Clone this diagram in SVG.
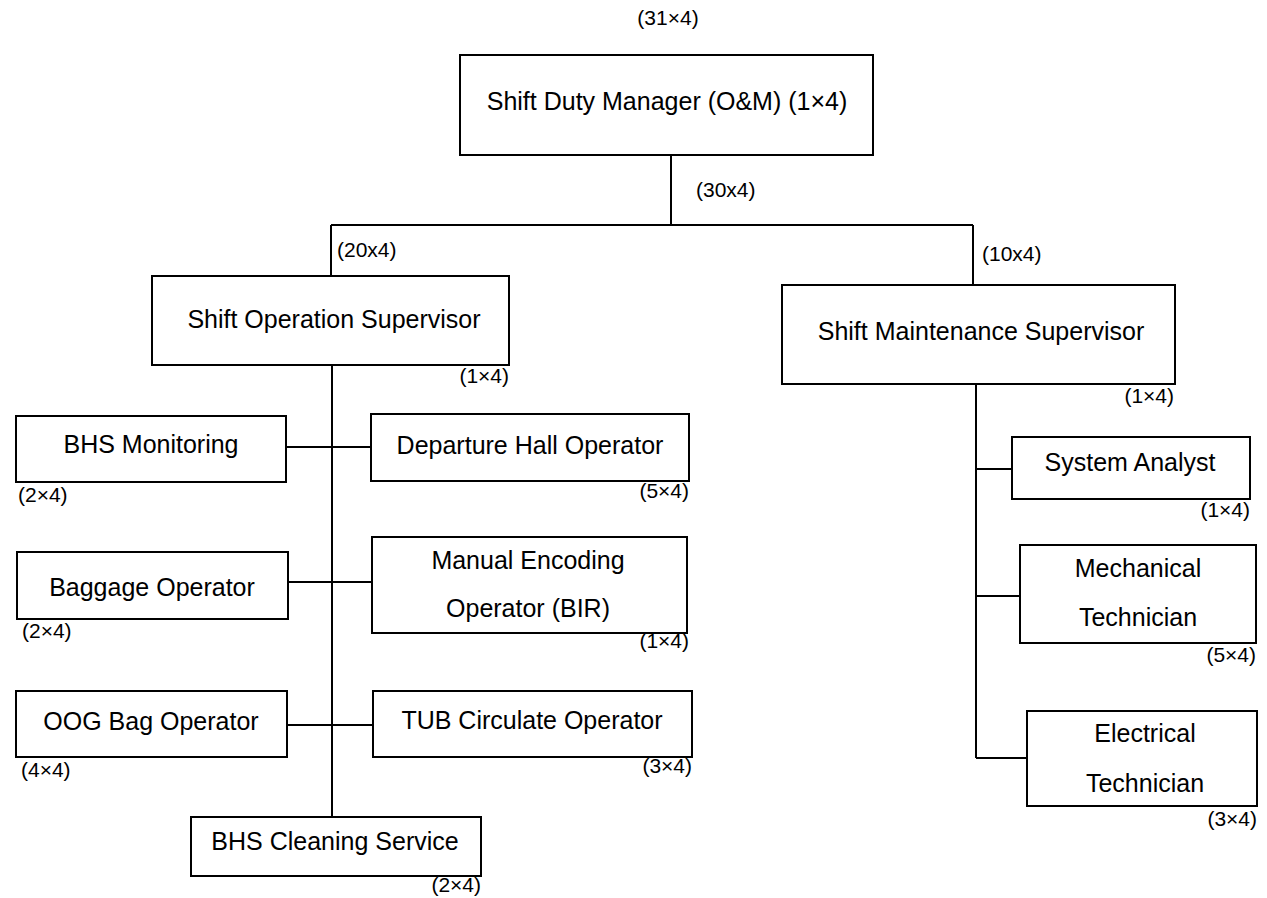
<svg xmlns="http://www.w3.org/2000/svg" width="1267" height="898" viewBox="0 0 1267 898">
<style>
  .box { fill: #ffffff; stroke: #000000; stroke-width: 2; }
  .t { font-family: "Liberation Sans", Arial, sans-serif; font-size: 25px; fill: #000000; text-anchor: middle; }
  .n { font-family: "Liberation Sans", Arial, sans-serif; font-size: 21px; fill: #000000; }
  .e { text-anchor: end; }
  .conn line { stroke: #000000; stroke-width: 2; }
</style>
<rect width="1267" height="898" fill="#ffffff"/>
<g id="connectors" class="conn">
  <line x1="671" y1="155" x2="671" y2="225"/>
  <line x1="331" y1="225" x2="973" y2="225"/>
  <line x1="331" y1="225" x2="331" y2="276"/>
  <line x1="973" y1="225" x2="973" y2="285"/>
  <line x1="332" y1="365" x2="332" y2="817"/>
  <line x1="286" y1="447" x2="371" y2="447"/>
  <line x1="288" y1="582" x2="372" y2="582"/>
  <line x1="287" y1="725" x2="373" y2="725"/>
  <line x1="976" y1="384" x2="976" y2="758"/>
  <line x1="976" y1="469" x2="1012" y2="469"/>
  <line x1="976" y1="596" x2="1020" y2="596"/>
  <line x1="976" y1="758" x2="1027" y2="758"/>
</g>
<g id="labels-connectors">
  <text class="n" x="668" y="25" text-anchor="middle">(31×4)</text>
  <text class="n" x="696" y="197">(30x4)</text>
  <text class="n" x="337" y="257">(20x4)</text>
  <text class="n" x="982" y="261">(10x4)</text>
</g>
<g id="node-sdm">
  <rect class="box" x="460" y="55" width="413" height="100"/>
  <text class="t" x="667" y="110">Shift Duty Manager (O&amp;M) (1×4)</text>
</g>
<g id="node-sos">
  <rect class="box" x="152" y="276" width="357" height="89"/>
  <text class="t" x="334" y="328">Shift Operation Supervisor</text>
  <text class="n e" x="509" y="383">(1×4)</text>
</g>
<g id="node-sms">
  <rect class="box" x="782" y="285" width="393" height="99"/>
  <text class="t" x="981" y="340">Shift Maintenance Supervisor</text>
  <text class="n e" x="1174" y="403">(1×4)</text>
</g>
<g id="node-bhs-monitoring">
  <rect class="box" x="16" y="416" width="270" height="66"/>
  <text class="t" x="151" y="453">BHS Monitoring</text>
  <text class="n" x="18" y="502">(2×4)</text>
</g>
<g id="node-departure">
  <rect class="box" x="371" y="414" width="318" height="67"/>
  <text class="t" x="530" y="454">Departure Hall Operator</text>
  <text class="n e" x="689" y="498">(5×4)</text>
</g>
<g id="node-baggage">
  <rect class="box" x="17" y="552" width="271" height="67"/>
  <text class="t" x="152" y="596">Baggage Operator</text>
  <text class="n" x="22" y="638">(2×4)</text>
</g>
<g id="node-manual-encoding">
  <rect class="box" x="372" y="537" width="315" height="96"/>
  <text class="t" x="528" y="569">Manual Encoding</text>
  <text class="t" x="528" y="617">Operator (BIR)</text>
  <text class="n e" x="689" y="648">(1×4)</text>
</g>
<g id="node-oog">
  <rect class="box" x="16" y="691" width="271" height="66"/>
  <text class="t" x="151" y="730">OOG Bag Operator</text>
  <text class="n" x="21" y="777">(4×4)</text>
</g>
<g id="node-tub">
  <rect class="box" x="373" y="691" width="319" height="66"/>
  <text class="t" x="532" y="729">TUB Circulate Operator</text>
  <text class="n e" x="692" y="773">(3×4)</text>
</g>
<g id="node-bhs-cleaning">
  <rect class="box" x="191" y="817" width="290" height="59"/>
  <text class="t" x="335" y="850">BHS Cleaning Service</text>
  <text class="n e" x="481" y="892">(2×4)</text>
</g>
<g id="node-system-analyst">
  <rect class="box" x="1012" y="437" width="238" height="62"/>
  <text class="t" x="1130" y="471">System Analyst</text>
  <text class="n e" x="1250" y="517">(1×4)</text>
</g>
<g id="node-mechanical">
  <rect class="box" x="1020" y="545" width="236" height="98"/>
  <text class="t" x="1138" y="577">Mechanical</text>
  <text class="t" x="1138" y="626">Technician</text>
  <text class="n e" x="1256" y="662">(5×4)</text>
</g>
<g id="node-electrical">
  <rect class="box" x="1027" y="711" width="230" height="95"/>
  <text class="t" x="1145" y="742">Electrical</text>
  <text class="t" x="1145" y="792">Technician</text>
  <text class="n e" x="1257" y="826">(3×4)</text>
</g>
</svg>
